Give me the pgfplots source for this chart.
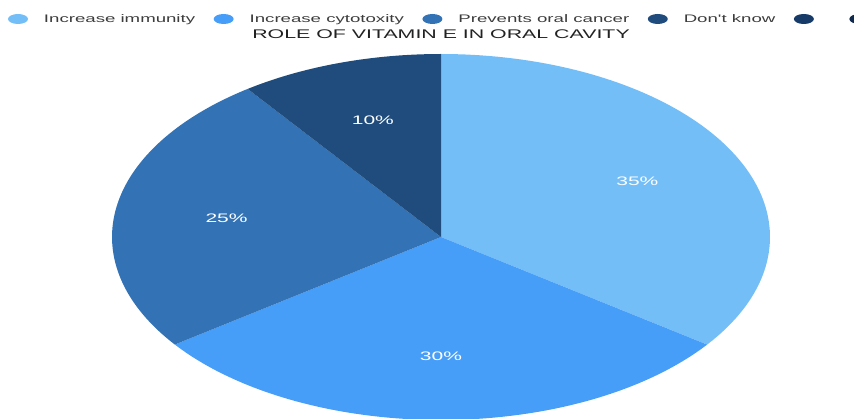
\documentclass[border=0pt]{standalone}
\usepackage{pgfplots}
\pgfplotsset{compat=1.18}
\usepackage{fontspec}
\setmainfont{Liberation Sans}
\newfontfamily\wide[FakeStretch=1.7]{Liberation Sans}
\definecolor{c1}{HTML}{74BEF8}
\definecolor{c2}{HTML}{479EF8}
\definecolor{c3}{HTML}{3373B5}
\definecolor{c4}{HTML}{1F4C7C}
\definecolor{c5}{HTML}{173B69}
\definecolor{c6}{HTML}{0F2A4E}
\definecolor{legtext}{HTML}{3C3C3C}
\definecolor{titletext}{HTML}{222222}
% values (percent)
\def\vA{35}\def\vB{30}\def\vC{25}\def\vD{10}
\pgfmathsetmacro\aA{90}
\pgfmathsetmacro\aB{\aA-3.6*\vA}
\pgfmathsetmacro\aC{\aB-3.6*\vB}
\pgfmathsetmacro\aD{\aC-3.6*\vC}
\pgfmathsetmacro\aE{\aD-3.6*\vD}
\pgfmathsetmacro\mA{(\aA+\aB)/2}
\pgfmathsetmacro\mB{(\aB+\aC)/2}
\pgfmathsetmacro\mC{(\aC+\aD)/2}
\pgfmathsetmacro\mD{(\aD+\aE)/2}
\def\cx{441}\def\cy{-237}\def\rx{329}\def\ry{183}
\begin{document}
\begin{tikzpicture}
\begin{axis}[
  width=854bp, height=419bp, scale only axis,
  xmin=0, xmax=854, ymin=-419, ymax=0,
  hide axis, clip=true,
  legend columns=-1,
  legend style={at={(axis cs:8,-14)}, anchor=north west, draw=none, fill=none,
    inner sep=0pt, outer sep=0pt,
    font=\wide\fontsize{11}{13}\selectfont, text=legtext,
    /tikz/every odd column/.append style={column sep=16bp},
    /tikz/every even column/.append style={column sep=18.5bp},
    nodes={inner sep=0pt}},
  legend image code/.code={\fill[#1, draw=none] (10bp,0bp) ellipse [x radius=10bp, y radius=5bp];},
]
\addplot[forget plot, fill=c1, draw=none, domain=\aB:\aA, samples=90, variable=\t]
  ({\cx+\rx*cos(\t)},{\cy+\ry*sin(\t)}) -- (axis cs:\cx,\cy) -- cycle;
\addplot[forget plot, fill=c2, draw=none, domain=\aC:\aB, samples=90, variable=\t]
  ({\cx+\rx*cos(\t)},{\cy+\ry*sin(\t)}) -- (axis cs:\cx,\cy) -- cycle;
\addplot[forget plot, fill=c3, draw=none, domain=\aD:\aC, samples=90, variable=\t]
  ({\cx+\rx*cos(\t)},{\cy+\ry*sin(\t)}) -- (axis cs:\cx,\cy) -- cycle;
\addplot[forget plot, fill=c4, draw=none, domain=\aE:\aD, samples=40, variable=\t]
  ({\cx+\rx*cos(\t)},{\cy+\ry*sin(\t)}) -- (axis cs:\cx,\cy) -- cycle;
\addlegendimage{fill=c1, draw=none}\addlegendentry{Increase immunity}
\addlegendimage{fill=c2, draw=none}\addlegendentry{Increase cytotoxity}
\addlegendimage{fill=c3, draw=none}\addlegendentry{Prevents oral cancer}
\addlegendimage{fill=c4, draw=none}\addlegendentry{Don't know}
\addlegendimage{fill=c5, draw=none}\addlegendentry{}
\addlegendimage{fill=c6, draw=none}\addlegendentry{}
\tikzset{lab/.style={text=white, font=\wide\fontsize{12.4}{14}\selectfont, anchor=center}}
\node[lab] at (axis cs:{\cx+0.67*\rx*cos(\mA)},{\cy+0.67*\ry*sin(\mA)}) {\vA\%};
\node[lab] at (axis cs:{\cx+0.65*\rx*cos(\mB)},{\cy+0.65*\ry*sin(\mB)}) {\vB\%};
\node[lab] at (axis cs:{\cx+0.66*\rx*cos(\mC)},{\cy+0.66*\ry*sin(\mC)}) {\vC\%};
\node[lab] at (axis cs:{\cx+0.67*\rx*cos(\mD)},{\cy+0.67*\ry*sin(\mD)}) {\vD\%};
\node[anchor=base, text=titletext, font=\wide\fontsize{12.6}{14}\selectfont, inner sep=0pt]
  at (axis cs:441,-39) {ROLE OF VITAMIN E IN ORAL CAVITY};
\end{axis}
\pgfresetboundingbox
\path (current axis.south west) rectangle (current axis.north east);
\end{tikzpicture}
\end{document}
